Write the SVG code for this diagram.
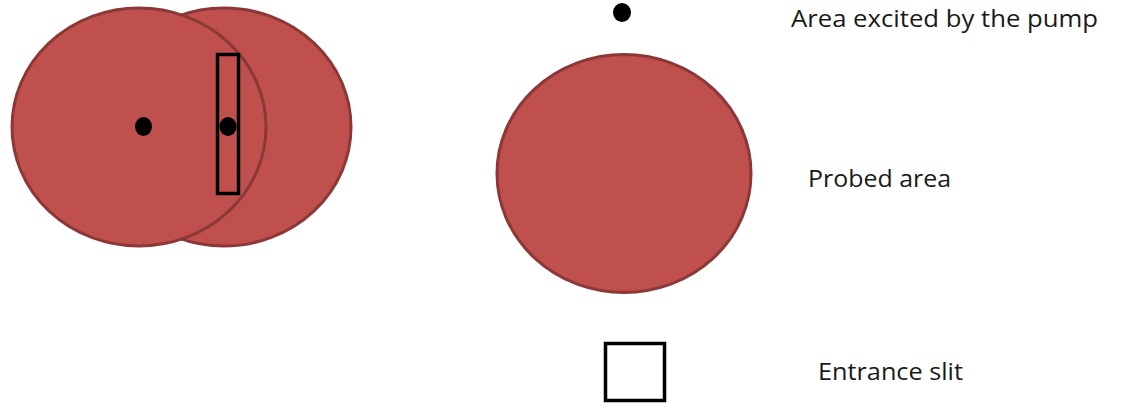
<svg xmlns="http://www.w3.org/2000/svg" width="1124" height="409" viewBox="0 0 1124 409">
<style>
.spot{fill:#C0504D;stroke:#8C3836;stroke-width:3}
.dot{fill:#000}
.box{fill:none;stroke:#000;stroke-width:3.5}
.lbl{font-family:"Open Sans","Liberation Sans",sans-serif;font-size:24px;fill:#1a1a1a}
</style>
<rect width="1124" height="409" fill="#fff"/>
<g id="probed-shifted">
<ellipse class="spot" cx="224" cy="127" rx="127" ry="119"/>
</g>
<g id="probed-left">
<ellipse class="spot" cx="139" cy="127" rx="127" ry="119"/>
</g>
<g id="pump-left">
<ellipse class="dot" cx="143.5" cy="126.5" rx="8.5" ry="9.5"/>
</g>
<g id="pump-right">
<ellipse class="dot" cx="228" cy="126.5" rx="8.5" ry="9.5"/>
</g>
<g id="slit-left">
<rect class="box" x="217.5" y="54.5" width="21" height="139"/>
</g>
<g id="legend-pump">
<ellipse class="dot" cx="622" cy="12.5" rx="9" ry="9.5"/>
<text class="lbl" x="791" y="27" textLength="307" lengthAdjust="spacingAndGlyphs">Area excited by the pump</text>
</g>
<g id="legend-probe">
<ellipse class="spot" cx="624" cy="173.5" rx="127" ry="119"/>
<text class="lbl" x="808" y="187" textLength="143" lengthAdjust="spacingAndGlyphs">Probed area</text>
</g>
<g id="legend-slit">
<rect class="box" x="605.5" y="343.5" width="59" height="57"/>
<text class="lbl" x="818" y="380" textLength="145" lengthAdjust="spacingAndGlyphs">Entrance slit</text>
</g>
<g id="connectors"></g>
</svg>
